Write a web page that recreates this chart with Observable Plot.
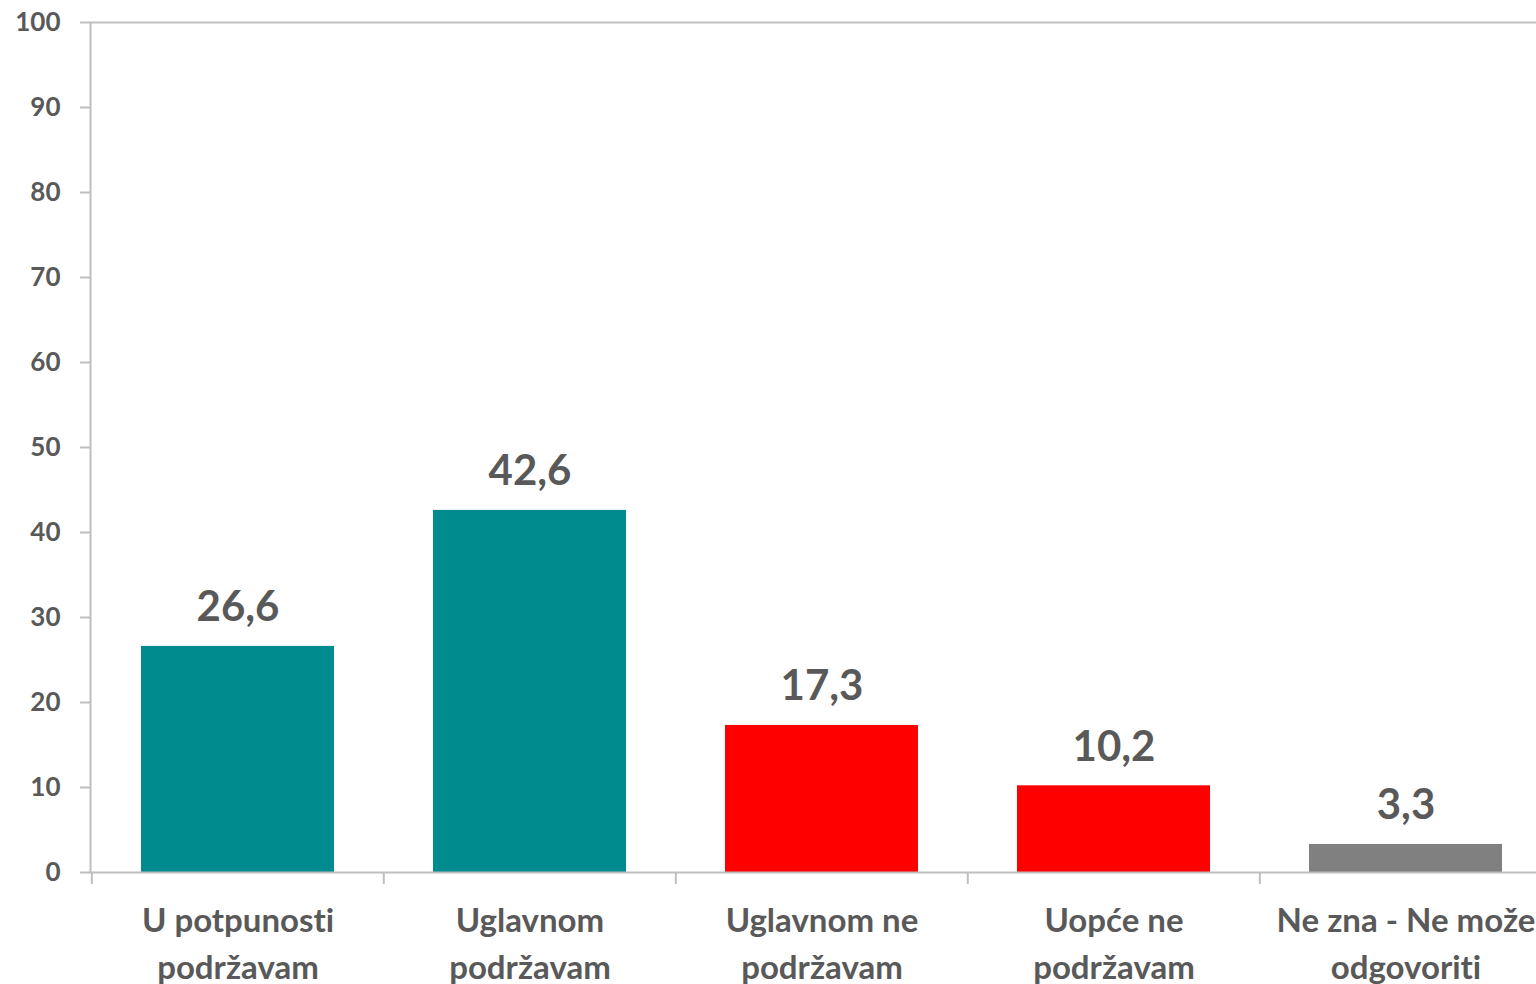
<!DOCTYPE html>
<html><head><meta charset="utf-8">
<script src="https://cdn.jsdelivr.net/npm/d3@7"></script>
<script src="https://cdn.jsdelivr.net/npm/@observablehq/plot@0.6"></script>
<style>
html,body{margin:0;padding:0;background:#fff;overflow:hidden;}
#chart svg{display:block;max-width:none;font-variant-ligatures:none;}
#chart svg text{font-variant-ligatures:none;}
</style></head><body><div id="chart"></div>
<script>
const categories = ["U potpunosti\npodržavam", "Uglavnom\npodržavam", "Uglavnom ne\npodržavam", "Uopće ne\npodržavam", "Ne zna - Ne može\nodgovoriti"];
const values = [26.6, 42.6, 17.3, 10.2, 3.3];
const valueLabels = ["26,6", "42,6", "17,3", "10,2", "3,3"];
const barColors = ["#008C8F", "#008C8F", "#FF0000", "#FF0000", "#808080"];
const yTicks = [0, 10, 20, 30, 40, 50, 60, 70, 80, 90, 100];

const data = categories.map((c, i) => ({category: c, value: values[i], label: valueLabels[i], color: barColors[i]}));

const width = 1536, marginLeft = 90, marginRight = -16;
const step = (width - marginLeft - marginRight) / categories.length;
const font = "Lato, 'Open Sans', sans-serif";
const textColor = "#595959";
const gridColor = "#BFBFBF";

const chart = Plot.plot({
  width, height: 984,
  marginLeft, marginRight, marginTop: 22, marginBottom: 112,
  style: {fontFamily: font, background: "#fff", color: textColor, overflow: "hidden"},
  x: {domain: categories, paddingInner: 0.34, paddingOuter: 0.17},
  y: {domain: [0, 100]},
  marks: [
    Plot.barY(data, {x: "category", y: "value", fill: "color"}),
    Plot.frame({stroke: gridColor, strokeWidth: 2}),
    Plot.axisY(yTicks, {label: null, tickSize: 10, tickPadding: 20, stroke: gridColor, strokeWidth: 2, fill: textColor, fontSize: 26, fontWeight: "bold", tickFormat: d => String(d)}),
    Plot.axisX(categories, {label: null, tickSize: 12, stroke: gridColor, strokeWidth: 2, fill: null, dx: -step / 2}),
    Plot.text(data, {x: "category", y: "value", text: "label", lineAnchor: "bottom", dy: -25, fontSize: 42, fontWeight: "bold", fill: textColor}),
    Plot.text(data, {x: "category", frameAnchor: "bottom", text: "category", lineAnchor: "top", lineHeight: 1.4, dy: 27, fontSize: 33, fontWeight: "bold", fill: textColor})
  ]
});
document.getElementById("chart").appendChild(chart);
</script></body></html>
